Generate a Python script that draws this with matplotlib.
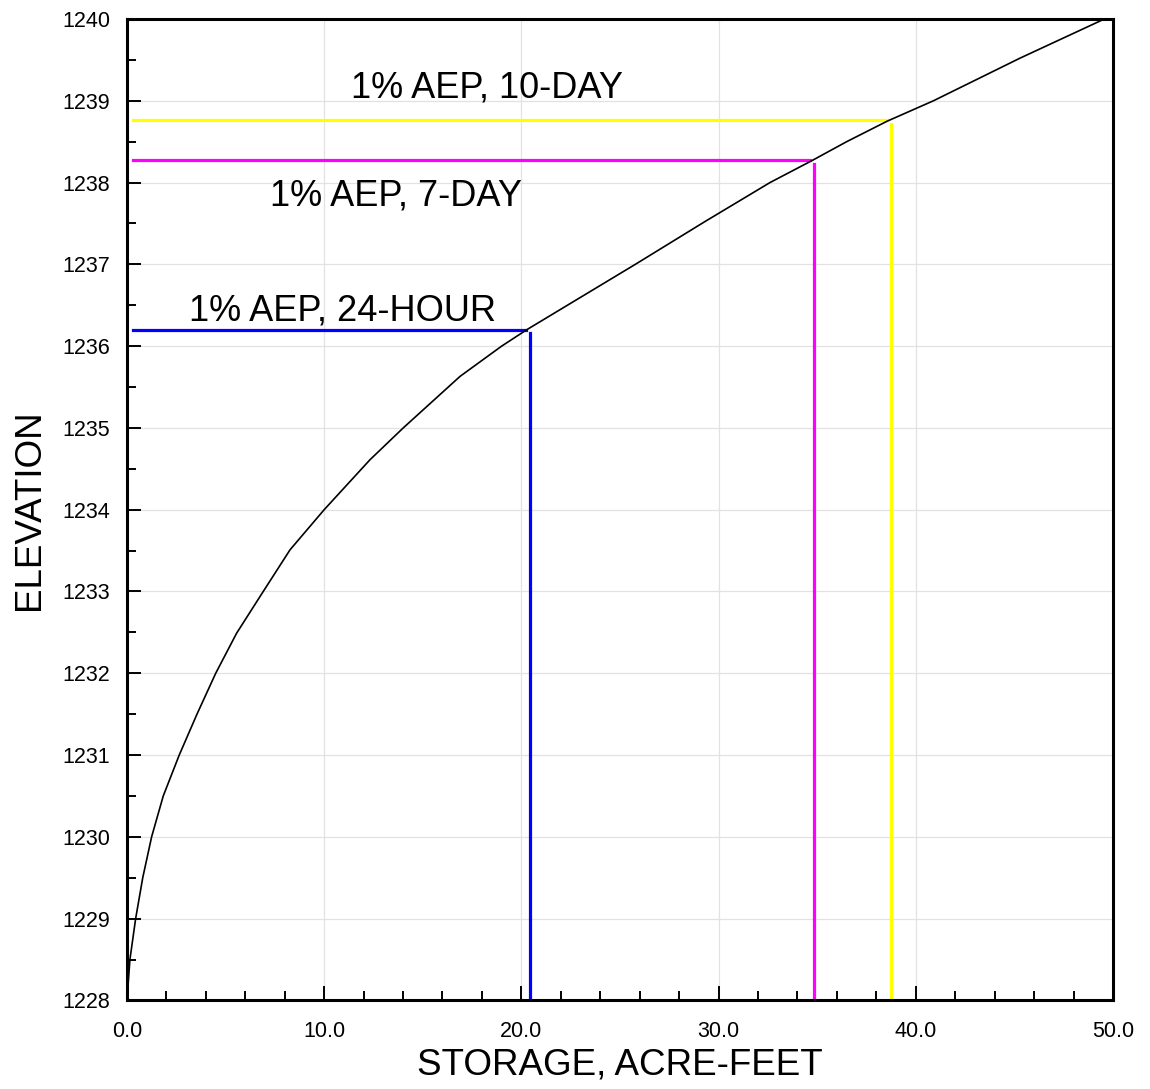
import numpy as np
import matplotlib.pyplot as plt
from matplotlib.ticker import MultipleLocator, FormatStrFormatter

# elevation-storage curve
storage = [0.0, 0.15, 0.44, 0.80, 1.25, 1.84, 2.65, 3.55, 4.50, 5.56, 6.91, 8.27, 10.0,
           12.32, 14.01, 16.89, 19.0, 20.27, 25.78, 29.29, 32.61, 34.75, 36.5, 38.55,
           40.9, 45.28, 49.57]
elevation = [1228.0, 1228.5, 1229.0, 1229.5, 1230.0, 1230.5, 1231.0, 1231.5, 1232.0, 1232.49,
             1233.0, 1233.51, 1234.0, 1234.61, 1235.0, 1235.63, 1236.0, 1236.2, 1237.0,
             1237.52, 1238.0, 1238.27, 1238.5, 1238.75, 1239.0, 1239.52, 1240.0]

# 1% AEP events
events = ['1% AEP, 24-HOUR', '1% AEP, 7-DAY', '1% AEP, 10-DAY']
event_storage = [20.44, 34.85, 38.75]
event_elev = [1236.20, 1238.27, 1238.76]
event_colors = ['#0000ff', '#ff00ff', '#ffff00']

plt.rcParams['font.family'] = ['Liberation Sans', 'DejaVu Sans']

fig = plt.figure(figsize=(11.5, 10.89), dpi=100)
ax = fig.add_axes([0.1104, 0.0813, 0.8574, 0.9013])

ax.plot(storage, elevation, color='black', linewidth=1.2, zorder=3)

for s, e, c in zip(event_storage, event_elev, event_colors):
    ax.plot([0.3, s - 0.2], [e, e], color=c, linewidth=2.3, zorder=2)
    ax.plot([s, s], [e - 0.04, 1228], color=c, linewidth=2.3, zorder=2)

# labels
label_pos = [(10.93, 1236.43), (13.63, 1237.84), (18.24, 1239.16)]
for t, (x, y) in zip(events, label_pos):
    ax.text(x, y, t, fontsize=26, ha='center', va='center', zorder=4)

ax.set_xlim(0, 50)
ax.set_ylim(1228, 1240)
ax.xaxis.set_major_locator(MultipleLocator(10))
ax.xaxis.set_minor_locator(MultipleLocator(2))
ax.yaxis.set_major_locator(MultipleLocator(1))
ax.yaxis.set_minor_locator(MultipleLocator(0.5))
ax.xaxis.set_major_formatter(FormatStrFormatter('%.1f'))
ax.yaxis.set_major_formatter(FormatStrFormatter('%d'))

ax.grid(True, which='major', color='#e2e2e2', linewidth=0.9, zorder=0)
ax.set_axisbelow(True)
ax.tick_params(which='major', direction='in', length=10, width=1.4, labelsize=15.5)
ax.tick_params(which='minor', direction='in', length=6.5, width=1.4)
ax.tick_params(axis='y', which='major', pad=12)
ax.tick_params(axis='x', which='major', pad=15)
for sp in ax.spines.values():
    sp.set_linewidth(2.2)

ax.set_xlabel('STORAGE, ACRE-FEET', fontsize=26.5)
ax.set_ylabel('ELEVATION', fontsize=26.5)
ax.xaxis.set_label_coords(0.5, -0.048)
ax.yaxis.set_label_coords(-0.081, 0.5)

fig.savefig('out.png', dpi=100)
